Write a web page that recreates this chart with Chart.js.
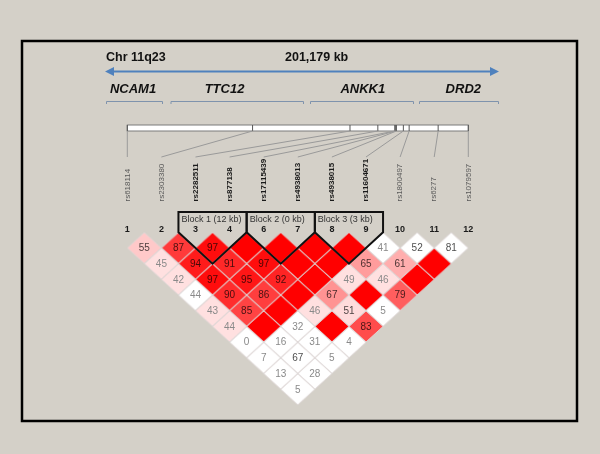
<!DOCTYPE html>
<html>
<head>
<meta charset="utf-8">
<script src="https://cdn.jsdelivr.net/npm/chart.js@4.4.0/dist/chart.umd.min.js"></script>
<style>
    html, body { margin: 0; padding: 0; background: #d4d0c8; }
    canvas { display: block; }
</style>
</head>
<body>
<canvas id="ldChart" width="600" height="454"></canvas>
<script>
// markers kept in the plot (marker 5 was dropped)
const markerNumbers = [1, 2, 3, 4, 6, 7, 8, 9, 10, 11, 12];
const markerNames = ['rs618114', 'rs2303380', 'rs2282511', 'rs877138', 'rs17115439', 'rs4938013',
    'rs4938015', 'rs11604671', 'rs1800497', 'rs6277', 'rs1079597'];
const markerInBlock = [0, 0, 1, 1, 1, 1, 1, 1, 0, 0, 0];
// relative position on the physical map, kb
const markerPositionsKb = [0, 54, 96, 108, 115.3, 115.7, 116, 119, 121.5, 134, 147];

// D' x 100, one row per marker distance: row d-1, entry i = pair (i, i + d)
const dprimeByDistance = [
    [55, 87, 97, 100, 100, 100, 100, 41, 52, 81],
    [45, 94, 91, 97, 100, 100, 65, 61, 100],
    [42, 97, 95, 92, 100, 49, 46, 100],
    [44, 90, 86, 100, 67, 100, 79],
    [43, 85, 100, 46, 51, 5],
    [44, 100, 32, 100, 83],
    [0, 16, 31, 4],
    [7, 67, 5],
    [13, 28],
    [5]
];
// LOD >= 2 for the same pairs
const lodSignificant = [
    [1, 1, 1, 1, 1, 1, 1, 0, 0, 0],
    [1, 1, 1, 1, 1, 1, 1, 1, 1],
    [1, 1, 1, 1, 1, 1, 1, 1],
    [0, 1, 1, 1, 1, 1, 1],
    [1, 1, 1, 1, 1, 0],
    [1, 1, 0, 1, 1],
    [0, 0, 0, 0],
    [0, 0, 0],
    [0, 0],
    [0]
];

const blockLabels = ['Block 1 (12 kb)', 'Block 2 (0 kb)', 'Block 3 (3 kb)'];
const blockFirst = [2, 4, 6];
const blockLast = [3, 5, 7];

const geneNames = ['NCAM1', 'TTC12', 'ANKK1', 'DRD2'];

const FONT = '"Liberation Sans", Arial, sans-serif';
const HALF_W = 341 / 10 / 2;
const HALF_H = 172.7 / 11;

function cellColor(d, lod) {
    if (!lod) return d >= 100 ? 'rgb(192,192,240)' : '#ffffff';
    if (d < 50) return 'rgb(255,224,224)';
    let g = Math.round(446 * (1 - d / 100));
    return 'rgb(255,' + g + ',' + g + ')';
}

function diamondImage(fill) {
    let c = document.createElement('canvas');
    c.width = Math.round(HALF_W * 2) + 2;
    c.height = Math.round(HALF_H * 2) + 2;
    let g = c.getContext('2d');
    g.beginPath();
    g.moveTo(c.width / 2, 1);
    g.lineTo(c.width - 1, c.height / 2);
    g.lineTo(c.width / 2, c.height - 1);
    g.lineTo(1, c.height / 2);
    g.closePath();
    g.fillStyle = fill;
    g.fill();
    g.strokeStyle = 'rgba(222,214,214,0.9)';
    g.lineWidth = 1;
    g.stroke();
    return c;
}

let cells = [];
dprimeByDistance.forEach(function (row, k) {
    row.forEach(function (v, i) {
        cells.push({x: i + (k + 1) / 2, y: k + 1, v: v, lod: lodSignificant[k][i]});
    });
});

const decor = {
    id: 'decor',
    beforeDraw(chart) {
        let ctx = chart.ctx;
        let xs = chart.scales.x;
        ctx.save();
        ctx.fillStyle = '#d4d0c8';
        ctx.fillRect(0, 0, chart.width, chart.height);

        // frame
        ctx.strokeStyle = '#000';
        ctx.lineWidth = 2.5;
        ctx.strokeRect(22, 41, 555, 380);

        // chromosome header
        ctx.fillStyle = '#111';
        ctx.font = 'bold 12.5px ' + FONT;
        ctx.textBaseline = 'middle';
        ctx.textAlign = 'left';
        ctx.fillText('Chr 11q23', 106, 58);
        ctx.fillText('201,179 kb', 285, 58);

        // double arrow
        ctx.strokeStyle = '#4f81bd';
        ctx.fillStyle = '#4f81bd';
        ctx.lineWidth = 2;
        ctx.beginPath();
        ctx.moveTo(111, 71.5);
        ctx.lineTo(493, 71.5);
        ctx.stroke();
        ctx.beginPath();
        ctx.moveTo(105, 71.5); ctx.lineTo(114, 67); ctx.lineTo(114, 76); ctx.closePath();
        ctx.moveTo(499, 71.5); ctx.lineTo(490, 67); ctx.lineTo(490, 76); ctx.closePath();
        ctx.fill();

        // genes
        const geneCentre = [133, 224.5, 362.8, 463.3];
        const geneSpan = [[106, 163], [170.5, 304], [310, 414], [419, 499]];
        ctx.font = 'italic bold 13px ' + FONT;
        ctx.textAlign = 'center';
        ctx.fillStyle = '#111';
        geneNames.forEach(function (g, i) {
            ctx.fillText(g, geneCentre[i], 89.5);
        });
        ctx.strokeStyle = '#7f93ad';
        ctx.lineWidth = 1;
        geneSpan.forEach(function (s) {
            ctx.beginPath();
            ctx.moveTo(s[0] + 0.5, 104);
            ctx.lineTo(s[0] + 0.5, 101.5);
            ctx.lineTo(s[1] - 0.5, 101.5);
            ctx.lineTo(s[1] - 0.5, 104);
            ctx.stroke();
        });

        // physical map bar
        let maxKb = markerPositionsKb[markerPositionsKb.length - 1];
        let x0 = xs.getPixelForValue(0), x1 = xs.getPixelForValue(10);
        ctx.fillStyle = '#ffffff';
        ctx.fillRect(x0, 125, x1 - x0, 6);
        ctx.strokeStyle = '#7a7a7a';
        ctx.strokeRect(x0, 125, x1 - x0, 6);
        markerPositionsKb.forEach(function (kb, i) {
            let px = xs.getPixelForValue(kb / maxKb * 10);
            ctx.strokeStyle = '#555';
            ctx.beginPath();
            ctx.moveTo(px, 125);
            ctx.lineTo(px, 131);
            ctx.stroke();
            ctx.strokeStyle = '#9a9a9a';
            ctx.beginPath();
            ctx.moveTo(px, 131);
            ctx.lineTo(xs.getPixelForValue(i), 157);
            ctx.stroke();
        });

        // marker names
        ctx.textAlign = 'left';
        ctx.textBaseline = 'middle';
        markerNames.forEach(function (name, i) {
            ctx.save();
            ctx.translate(xs.getPixelForValue(i), 201.5);
            ctx.rotate(-Math.PI / 2);
            ctx.font = (markerInBlock[i] ? 'bold ' : '') + '8px ' + FONT;
            ctx.fillStyle = markerInBlock[i] ? '#1a1a1a' : '#5a5a5a';
            ctx.fillText(name, 0, 0);
            ctx.restore();
        });
        ctx.restore();
    },
    afterDatasetsDraw(chart) {
        let ctx = chart.ctx;
        let xs = chart.scales.x, ys = chart.scales.y;
        ctx.save();

        // D' values
        ctx.font = '10px ' + FONT;
        ctx.textAlign = 'center';
        ctx.textBaseline = 'middle';
        chart.getDatasetMeta(0).data.forEach(function (pt, n) {
            let c = cells[n];
            if (c.v >= 100) return;
            ctx.fillStyle = c.v < 50 ? '#8a8a8a' : 'rgba(0,0,0,0.72)';
            ctx.fillText(String(c.v), pt.x, pt.y + 0.5);
        });

        // marker numbers
        ctx.font = 'bold 9px ' + FONT;
        ctx.fillStyle = '#1a1a1a';
        markerNumbers.forEach(function (m, i) {
            ctx.fillText(String(m), xs.getPixelForValue(i), 230);
        });

        // haplotype blocks
        ctx.strokeStyle = '#111';
        ctx.lineWidth = 2;
        ctx.lineJoin = 'miter';
        blockLabels.forEach(function (label, b) {
            let a = blockFirst[b], e = blockLast[b];
            let xl = xs.getPixelForValue(a - 0.5), xr = xs.getPixelForValue(e + 0.5);
            let xm = xs.getPixelForValue((a + e) / 2);
            let yt = ys.getPixelForValue(0), yb = ys.getPixelForValue(e - a + 1);
            ctx.beginPath();
            ctx.moveTo(xl, yt);
            ctx.lineTo(xl, 212);
            ctx.lineTo(xr, 212);
            ctx.lineTo(xr, yt);
            ctx.lineTo(xm, yb);
            ctx.closePath();
            ctx.stroke();
            ctx.font = '9px ' + FONT;
            ctx.fillStyle = '#333';
            ctx.textAlign = 'left';
            ctx.fillText(label, xl + 3, 220);
            ctx.textAlign = 'center';
        });
        ctx.restore();
    }
};

new Chart(document.getElementById('ldChart'), {
    type: 'scatter',
    data: {
        datasets: [{
            data: cells,
            pointStyle: cells.map(function (c) { return diamondImage(cellColor(c.v, c.lod)); }),
            pointRadius: 2,
            pointHoverRadius: 2,
            clip: false
        }]
    },
    options: {
        responsive: false,
        animation: false,
        events: [],
        devicePixelRatio: 1,
        layout: {
            padding: {left: 127.3, right: 131.7, top: 232.3, bottom: 49}
        },
        plugins: {
            legend: {display: false},
            tooltip: {enabled: false}
        },
        scales: {
            x: {type: 'linear', min: 0, max: 10, display: false},
            y: {type: 'linear', min: 0, max: 11, reverse: true, display: false}
        }
    },
    plugins: [decor]
});
</script>
</body>
</html>
